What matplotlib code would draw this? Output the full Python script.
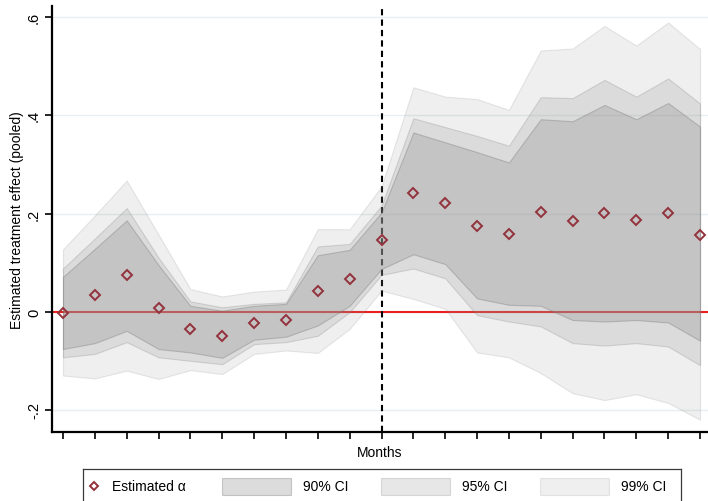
import numpy as np
import matplotlib
matplotlib.use("Agg")
import matplotlib.pyplot as plt
from matplotlib.patches import Rectangle
from matplotlib.lines import Line2D

plt.rcParams['font.family'] = ['Liberation Sans', 'DejaVu Sans']

# event time (months relative to treatment)
months = np.arange(-10, 11)

est = [-0.003, 0.033, 0.074, 0.008, -0.036, -0.049, -0.022, -0.017, 0.043, 0.066,
       0.146, 0.242, 0.221, 0.175, 0.158, 0.204, 0.185, 0.201, 0.187, 0.202, 0.157]

ci90_lo = [-0.076, -0.064, -0.039, -0.076, -0.083, -0.094, -0.057, -0.051, -0.028, 0.012,
           0.087, 0.117, 0.097, 0.027, 0.014, 0.012, -0.017, -0.020, -0.017, -0.022, -0.059]
ci90_hi = [0.071, 0.128, 0.186, 0.095, 0.012, 0.002, 0.012, 0.016, 0.115, 0.126,
           0.202, 0.365, 0.345, 0.325, 0.304, 0.392, 0.388, 0.421, 0.392, 0.425, 0.377]
ci95_lo = [-0.093, -0.086, -0.062, -0.093, -0.100, -0.107, -0.066, -0.062, -0.049, -0.001,
           0.075, 0.088, 0.068, -0.007, -0.020, -0.030, -0.064, -0.069, -0.064, -0.071, -0.109]
ci95_hi = [0.088, 0.149, 0.211, 0.110, 0.021, 0.009, 0.016, 0.019, 0.133, 0.138,
           0.216, 0.394, 0.376, 0.358, 0.338, 0.437, 0.435, 0.472, 0.438, 0.475, 0.424]
ci99_lo = [-0.130, -0.136, -0.120, -0.137, -0.119, -0.127, -0.086, -0.079, -0.084, -0.035,
           0.043, 0.026, 0.006, -0.083, -0.093, -0.125, -0.166, -0.180, -0.168, -0.186, -0.220]
ci99_hi = [0.127, 0.196, 0.267, 0.157, 0.046, 0.031, 0.041, 0.045, 0.168, 0.168,
           0.255, 0.457, 0.438, 0.433, 0.411, 0.532, 0.536, 0.582, 0.542, 0.589, 0.535]

yticks = [-0.2, 0, 0.2, 0.4, 0.6]
ytick_labels = ['-.2', '0', '.2', '.4', '.6']

band_gray = '#969696'
bands = [  # (lo, hi, alpha, label) drawn widest first
    (ci99_lo, ci99_hi, 0.15, '99% CI'),
    (ci95_lo, ci95_hi, 0.22, '95% CI'),
    (ci90_lo, ci90_hi, 0.33, '90% CI'),
]
marker_col = '#93323d'

fig = plt.figure(figsize=(7.08, 5.02), dpi=100)
ax = fig.add_axes([52/708, 69/502, 656/708, 426/502])
ax.set_axisbelow(True)

ax.grid(axis='y', color='#e6eff1', linewidth=1.0, zorder=0)
ax.axhline(0, color='#e8211d', linewidth=1.5, zorder=1)
ax.axvline(0, color='black', linestyle=(0, (3, 2)), linewidth=1.5, zorder=1)

for lo, hi, a, lab in bands:
    ax.fill_between(months, lo, hi, facecolor=band_gray, edgecolor='#6e6e6e',
                    linewidth=0.8, alpha=a, zorder=2)

ax.plot(months, est, linestyle='none', marker='D', markersize=4.6,
        markerfacecolor='none', markeredgecolor=marker_col, markeredgewidth=1.4, zorder=3)

ax.set_xlim(-10.345, 10.25)
ax.set_ylim(-0.245, 0.6226)
ax.set_xticks(months)
ax.set_xticklabels([])
ax.set_yticks(yticks)
ax.set_yticklabels(ytick_labels, rotation=90, va='center', fontsize=10.5)
ax.tick_params(axis='both', direction='out', length=5, width=1.2, color='black')
ax.tick_params(axis='y', pad=3)
for s in ['top', 'right']:
    ax.spines[s].set_visible(False)
for s in ['left', 'bottom']:
    ax.spines[s].set_linewidth(1.6)
ax.set_xlabel('Months', fontsize=10, labelpad=1)
ax.set_ylabel('Estimated treatment effect (pooled)', fontsize=10, labelpad=2)

# legend drawn as its own boxed strip
lax = fig.add_axes([83/708, -14/502, 598/708, 46/502])
lax.set_xlim(0, 598)
lax.set_ylim(0, 46)
lax.set_xticks([])
lax.set_yticks([])
for s in lax.spines.values():
    s.set_linewidth(0.9)
    s.set_color('#3a3a3a')
yc = 29
lax.add_line(Line2D([10.5], [yc], marker='D', markersize=4.2, markerfacecolor='none',
                    markeredgecolor=marker_col, markeredgewidth=1.4))
lax.text(28.7, yc, 'Estimated α', fontsize=10, va='center', ha='left')
for i, (lo, hi, a, lab) in enumerate(bands[::-1]):
    x0 = 138.7 + i * 159.2
    lax.add_patch(Rectangle((x0, yc - 8.5), 69, 17, facecolor=band_gray,
                            edgecolor='#6e6e6e', linewidth=0.8, alpha=a))
    lax.text(x0 + 81, yc, lab, fontsize=10, va='center', ha='left')

fig.savefig('out.png', dpi=100)
